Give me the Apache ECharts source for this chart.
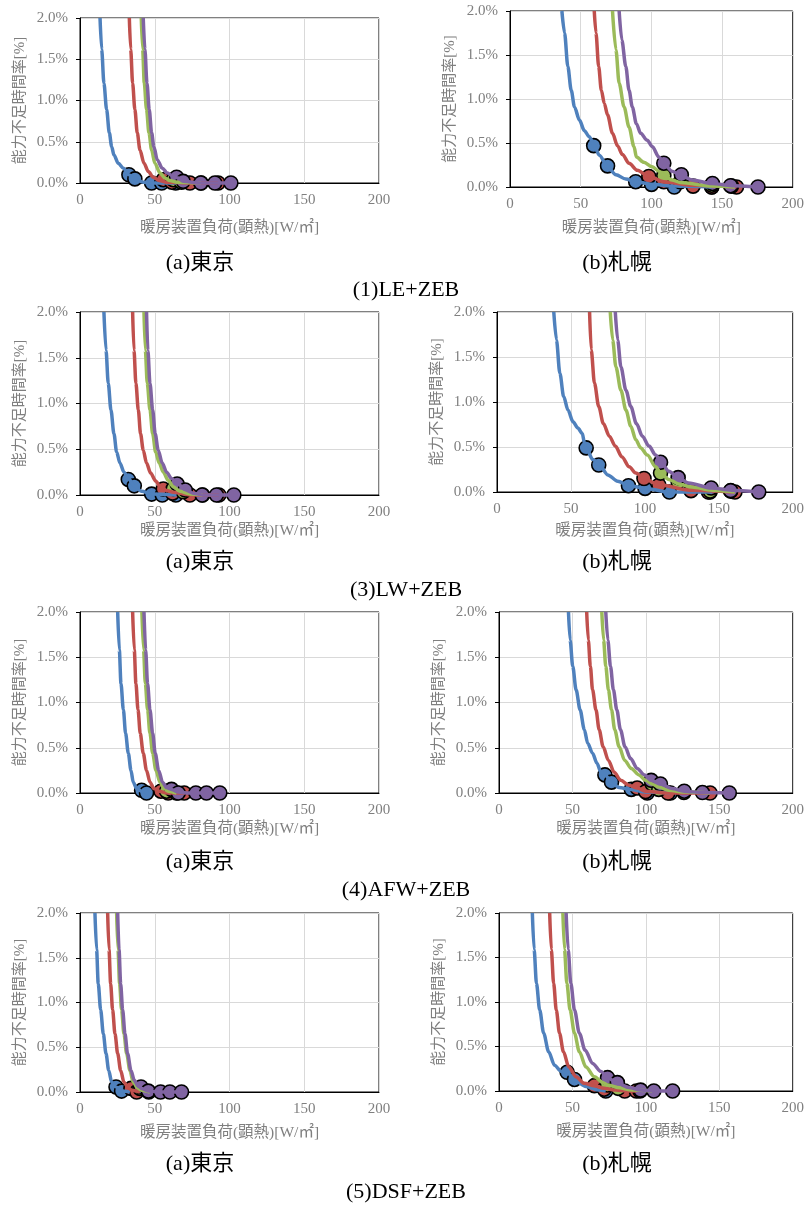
<!DOCTYPE html>
<html>
<head>
<meta charset="utf-8">
<script src="https://cdn.jsdelivr.net/npm/echarts@6/dist/echarts.min.js"></script>
<style>
html,body{margin:0;padding:0;background:#fff;}
#chart{width:807px;height:1205px;}
</style>
</head>
<body>
<div id="chart"></div>
<script>
// ---------- tick labels / axes ----------
const X_TICKS = [0, 50, 100, 150, 200];
const Y_TICKS = [0, 0.5, 1.0, 1.5, 2.0];
const X_TITLE = '暖房装置負荷(顕熱)[W/㎡]';
const Y_TITLE = '能力不足時間率[%]';
const CITY_LABELS = ['(a)東京', '(b)札幌'];
const GROUP_LABELS = ['(1)LE+ZEB', '(3)LW+ZEB', '(4)AFW+ZEB', '(5)DSF+ZEB'];

// ---------- (1) LE+ZEB, Tokyo ----------
const LE_TKY_BLUE_LINE = [[13.4,2.0],[14.5,1.62],[16.0,1.21],[17.8,0.89],[19.6,0.61],[21.2,0.44],[22.7,0.34],[25.6,0.24],[29.0,0.18],[32.7,0.10],[36.7,0.05],[42.3,0.01],[47.9,0],[64.6,0]];
const LE_TKY_BLUE_PTS = [[32.7,0.10],[36.7,0.05],[47.9,0],[54.6,0],[64.0,0]];
const LE_TKY_RED_LINE = [[33.0,2.0],[33.9,1.62],[35.2,1.21],[36.7,0.89],[38.3,0.61],[40.1,0.40],[42.8,0.24],[45.7,0.14],[49.0,0.07],[53.0,0.03],[57.9,0.01],[73.5,0],[92.4,0]];
const LE_TKY_RED_PTS = [[55.7,0.04],[61.5,0.01],[73.5,0],[92.4,0]];
const LE_TKY_GREEN_LINE = [[41.0,2.0],[41.9,1.62],[43.0,1.21],[44.5,0.89],[46.1,0.61],[47.9,0.40],[50.1,0.24],[53.5,0.12],[56.8,0.06],[60.1,0.03],[65.0,0.01],[81.0,0]];
const LE_TKY_GREEN_PTS = [[62.4,0.04],[67.9,0.01],[81.0,0]];
const LE_TKY_PURPLE_LINE = [[42.3,2.0],[43.4,1.62],[44.8,1.21],[46.3,0.89],[47.9,0.61],[49.4,0.44],[51.7,0.28],[55.0,0.18],[58.4,0.12],[62.4,0.08],[65.7,0.06],[69.0,0.02],[80.2,0],[100.9,0]];
const LE_TKY_PURPLE_PTS = [[64.6,0.07],[69.0,0.02],[80.8,0],[90.2,0],[100.9,0]];

// ---------- (1) LE+ZEB, Sapporo ----------
const LE_SPR_BLUE_LINE = [[36.7,2.0],[38.6,1.75],[40.9,1.37],[43.3,1.10],[45.6,0.91],[49.1,0.76],[52.6,0.64],[56.1,0.57],[59.6,0.47],[63.2,0.36],[69.0,0.23],[74.9,0.14],[81.9,0.09],[88.9,0.06],[100.6,0.03],[115.8,0.01],[142.7,0]];
const LE_SPR_BLUE_PTS = [[59.2,0.47],[69.0,0.24],[88.9,0.06],[100.1,0.03],[116.2,0],[142.7,0]];
const LE_SPR_RED_LINE = [[59.6,2.0],[60.8,1.75],[62.7,1.37],[64.6,1.10],[66.7,0.95],[69.0,0.82],[72.5,0.61],[76.0,0.47],[79.5,0.37],[84.2,0.27],[90.1,0.19],[97.1,0.13],[108.8,0.06],[128.7,0.02],[160.2,0]];
const LE_SPR_RED_PTS = [[98.2,0.12],[108.8,0.06],[129.5,0.01],[142.7,0],[160.2,0]];
const LE_SPR_GREEN_LINE = [[72.5,2.0],[74.9,1.56],[77.2,1.18],[80.7,0.91],[84.2,0.68],[87.7,0.46],[89.4,0.34],[94.7,0.28],[100.6,0.23],[105.3,0.18],[108.8,0.13],[114.6,0.08],[120.5,0.05],[142.7,0.01],[159.1,0]];
const LE_SPR_GREEN_PTS = [[108.8,0.13],[120.5,0.06],[142.7,0.02],[156.7,0.01]];
const LE_SPR_PURPLE_LINE = [[77.2,2.0],[79.1,1.67],[81.9,1.37],[84.2,1.10],[86.5,0.91],[89.4,0.72],[92.4,0.61],[97.1,0.53],[100.6,0.46],[105.3,0.34],[108.8,0.27],[114.6,0.18],[121.2,0.13],[128.7,0.08],[142.7,0.04],[156.7,0.015],[175.4,0]];
const LE_SPR_PURPLE_PTS = [[108.8,0.27],[121.2,0.14],[143.2,0.04],[156.0,0.015],[175.4,0]];

// ---------- (3) LW+ZEB, Tokyo ----------
const LW_TKY_BLUE_LINE = [[16.0,2.0],[17.4,1.58],[18.9,1.22],[20.7,0.93],[22.7,0.67],[24.5,0.47],[26.7,0.35],[29.4,0.25],[32.3,0.18],[36.3,0.10],[41.2,0.04],[47.9,0.01],[64.6,0]];
const LW_TKY_BLUE_PTS = [[32.3,0.17],[36.3,0.10],[47.9,0.01],[55.0,0],[64.1,0]];
const LW_TKY_RED_LINE = [[35.2,2.0],[36.1,1.58],[37.4,1.22],[39.0,0.93],[40.5,0.67],[42.3,0.49],[44.5,0.35],[47.2,0.24],[50.8,0.15],[53.5,0.09],[57.9,0.05],[62.4,0.03],[73.5,0],[92.9,0]];
const LW_TKY_RED_PTS = [[55.7,0.065],[61.9,0.02],[73.5,0],[92.9,0]];
const LW_TKY_GREEN_LINE = [[42.8,2.0],[43.7,1.58],[45.0,1.22],[46.8,0.93],[48.6,0.67],[50.6,0.47],[53.0,0.35],[55.7,0.25],[59.0,0.16],[62.4,0.09],[66.8,0.04],[73.5,0.01],[82.0,0]];
const LW_TKY_GREEN_PTS = [[62.4,0.07],[69.0,0.035],[82.0,0]];
const LW_TKY_PURPLE_LINE = [[44.5,2.0],[45.4,1.58],[46.8,1.22],[48.6,0.93],[50.3,0.67],[52.3,0.49],[55.0,0.35],[57.9,0.25],[61.2,0.18],[65.0,0.13],[70.2,0.06],[75.7,0.02],[82.4,0],[102.9,0]];
const LW_TKY_PURPLE_PTS = [[65.0,0.12],[70.4,0.055],[81.7,0],[91.3,0],[102.9,0]];

// ---------- (3) LW+ZEB, Sapporo ----------
const LW_SPR_BLUE_LINE = [[38.4,2.0],[40.2,1.69],[42.5,1.32],[45.1,1.06],[48.0,0.91],[51.4,0.78],[54.7,0.71],[57.7,0.65],[59.2,0.54],[60.3,0.49],[64.8,0.36],[69.3,0.30],[74.9,0.19],[81.6,0.12],[89.4,0.07],[100.6,0.04],[116.2,0],[145.3,0]];
const LW_SPR_BLUE_PTS = [[60.3,0.49],[68.8,0.30],[88.9,0.07],[100.1,0.04],[116.6,0],[144.0,0]];
const LW_SPR_RED_LINE = [[62.6,2.0],[63.7,1.58],[65.9,1.21],[68.8,0.95],[71.9,0.76],[76.0,0.62],[80.0,0.51],[84.5,0.39],[89.4,0.28],[93.9,0.21],[99.4,0.15],[109.5,0.08],[130.7,0.02],[160.9,0]];
const LW_SPR_RED_PTS = [[99.4,0.15],[109.5,0.075],[131.2,0.015],[143.0,0],[160.9,0]];
const LW_SPR_GREEN_LINE = [[76.6,2.0],[78.2,1.69],[80.4,1.39],[83.8,1.13],[87.2,0.91],[90.5,0.73],[93.9,0.58],[97.2,0.49],[101.7,0.41],[107.3,0.28],[110.6,0.21],[116.2,0.14],[122.9,0.09],[131.8,0.055],[145.3,0.02],[160.9,0]];
const LW_SPR_GREEN_PTS = [[110.6,0.21],[122.5,0.11],[144.1,0.01],[158.0,0.01]];
const LW_SPR_PURPLE_LINE = [[80.0,2.0],[81.6,1.69],[83.8,1.39],[87.2,1.13],[90.5,0.95],[94.3,0.76],[98.3,0.62],[102.8,0.51],[107.3,0.41],[110.6,0.34],[116.2,0.23],[122.5,0.16],[129.6,0.10],[144.8,0.045],[158.7,0.02],[176.5,0]];
const LW_SPR_PURPLE_PTS = [[110.6,0.33],[122.5,0.16],[144.8,0.045],[158.0,0.015],[177.0,0]];

// ---------- (4) AFW+ZEB, Tokyo ----------
const AFW_TKY_BLUE_LINE = [[25.2,2.0],[26.3,1.58],[27.4,1.21],[29.0,0.92],[30.5,0.66],[32.3,0.44],[34.1,0.25],[35.6,0.12],[37.9,0.05],[41.2,0.02],[45.7,0]];
const AFW_TKY_BLUE_PTS = [[41.2,0.03],[44.5,0]];
const AFW_TKY_RED_LINE = [[35.2,2.0],[36.3,1.58],[37.4,1.21],[38.8,0.92],[40.3,0.66],[42.3,0.44],[44.5,0.25],[46.8,0.12],[49.4,0.05],[53.0,0.02],[57.9,0],[70.2,0]];
const AFW_TKY_RED_PTS = [[54.1,0.02],[59.0,0],[69.7,0]];
const AFW_TKY_GREEN_LINE = [[41.4,2.0],[42.5,1.58],[43.7,1.21],[45.2,0.92],[46.8,0.66],[48.6,0.44],[50.8,0.25],[53.5,0.12],[56.1,0.05],[59.0,0.02],[64.6,0]];
const AFW_TKY_GREEN_PTS = [[57.9,0.02],[64.6,0]];
const AFW_TKY_PURPLE_LINE = [[42.8,2.0],[43.9,1.58],[45.2,1.21],[46.8,0.92],[48.6,0.66],[50.3,0.44],[52.6,0.25],[55.2,0.12],[57.9,0.06],[61.2,0.04],[65.7,0.01],[71.3,0],[93.5,0]];
const AFW_TKY_PURPLE_PTS = [[61.2,0.04],[65.7,0],[77.5,0],[84.6,0],[93.5,0]];

// ---------- (4) AFW+ZEB, Sapporo ----------
const AFW_SPR_BLUE_LINE = [[47.3,2.0],[48.4,1.69],[50.2,1.40],[52.5,1.14],[55.2,0.92],[58.1,0.70],[60.4,0.55],[63.7,0.44],[66.7,0.33],[69.4,0.23],[72.3,0.20],[76.8,0.11],[81.8,0.06],[89.6,0.04],[99.8,0.01],[116.7,0]];
const AFW_SPR_BLUE_PTS = [[72.1,0.20],[76.6,0.12],[90.1,0.04],[100.9,0],[116.7,0]];
const AFW_SPR_RED_LINE = [[59.7,2.0],[60.8,1.69],[62.2,1.40],[63.7,1.14],[66.0,0.92],[68.2,0.70],[70.9,0.51],[74.5,0.36],[78.4,0.23],[82.9,0.14],[88.5,0.085],[94.1,0.055],[99.8,0.02],[113.3,0],[143.7,0]];
const AFW_SPR_RED_PTS = [[94.1,0.055],[99.8,0.015],[115.1,0],[143.7,0]];
const AFW_SPR_GREEN_LINE = [[70.0,2.0],[71.2,1.69],[72.7,1.40],[74.5,1.14],[76.6,0.92],[78.8,0.70],[81.8,0.51],[85.6,0.36],[90.1,0.27],[95.3,0.20],[99.8,0.14],[104.3,0.10],[108.8,0.065],[115.5,0.03],[126.8,0.01],[143.7,0]];
const AFW_SPR_GREEN_PTS = [[104.3,0.10],[108.8,0.04],[125.9,0.005]];
const AFW_SPR_PURPLE_LINE = [[72.7,2.0],[74.1,1.69],[75.9,1.40],[77.9,1.14],[80.2,0.92],[82.7,0.70],[85.8,0.51],[89.6,0.38],[94.1,0.27],[99.1,0.20],[103.6,0.14],[109.9,0.10],[117.8,0.05],[126.1,0.02],[138.1,0.005],[156.8,0]];
const AFW_SPR_PURPLE_PTS = [[103.6,0.14],[109.9,0.10],[126.1,0.02],[138.5,0.005],[156.8,0]];

// ---------- (5) DSF+ZEB, Tokyo ----------
const DSF_TKY_BLUE_LINE = [[10.0,2.0],[11.1,1.59],[12.2,1.21],[13.8,0.92],[15.6,0.65],[17.4,0.43],[19.2,0.24],[21.2,0.11],[24.1,0.056],[27.8,0.01],[33.4,0]];
const DSF_TKY_BLUE_PTS = [[24.1,0.056],[27.8,0.01]];
const DSF_TKY_RED_LINE = [[18.5,2.0],[19.4,1.59],[20.5,1.21],[21.8,0.92],[23.4,0.65],[25.2,0.43],[27.2,0.24],[29.4,0.11],[32.3,0.045],[34.5,0.02],[40.1,0]];
const DSF_TKY_RED_PTS = [[34.1,0.04],[37.9,0]];
const DSF_TKY_GREEN_LINE = [[24.5,2.0],[25.4,1.59],[26.5,1.21],[27.8,0.92],[29.4,0.65],[31.2,0.43],[33.4,0.24],[35.6,0.11],[38.5,0.045],[41.2,0.02],[46.8,0]];
const DSF_TKY_GREEN_PTS = [[40.1,0.04],[46.0,0]];
const DSF_TKY_PURPLE_LINE = [[25.2,2.0],[26.1,1.59],[27.2,1.21],[28.5,0.92],[30.1,0.65],[31.8,0.43],[34.1,0.24],[36.3,0.13],[39.0,0.065],[41.2,0.04],[45.7,0.01],[53.5,0],[67.9,0]];
const DSF_TKY_PURPLE_PTS = [[40.8,0.056],[45.7,0.01],[53.9,0],[60.1,0],[67.9,0]];

// ---------- (5) DSF+ZEB, Sapporo ----------
const DSF_SPR_BLUE_LINE = [[22.7,2.0],[23.9,1.59],[25.5,1.21],[27.7,0.91],[30.4,0.65],[33.8,0.44],[37.8,0.29],[42.3,0.22],[46.4,0.21],[51.4,0.12],[59.2,0.05],[68.2,0.01],[72.7,0]];
const DSF_SPR_BLUE_PTS = [[46.4,0.21],[51.4,0.13],[72.7,0]];
const DSF_SPR_RED_LINE = [[34.5,2.0],[35.6,1.59],[37.2,1.21],[39.0,0.91],[41.2,0.65],[43.9,0.44],[47.5,0.27],[52.5,0.16],[58.1,0.086],[64.9,0.06],[71.6,0.03],[79.5,0.01],[86.3,0],[93.5,0]];
const DSF_SPR_RED_PTS = [[64.9,0.06],[71.6,0.02],[85.6,0],[93.5,0]];
const DSF_SPR_GREEN_LINE = [[43.5,2.0],[44.6,1.59],[46.2,1.21],[48.4,0.91],[51.4,0.65],[54.7,0.44],[59.2,0.27],[64.9,0.16],[70.9,0.094],[73.9,0.068],[80.6,0.04],[90.8,0.01],[104.3,0]];
const DSF_SPR_GREEN_PTS = [[73.9,0.068],[81.1,0.03],[96.0,0]];
const DSF_SPR_PURPLE_LINE = [[45.7,2.0],[47.1,1.59],[48.9,1.21],[51.4,0.91],[54.7,0.65],[58.6,0.46],[63.7,0.31],[69.4,0.22],[73.9,0.15],[80.6,0.086],[88.5,0.04],[96.4,0.01],[105.4,0],[118.2,0]];
const DSF_SPR_PURPLE_PTS = [[73.9,0.15],[80.6,0.094],[96.4,0.01],[105.4,0],[118.2,0]];

// ---------- panel assembly ----------
const PANEL_DATA = [
  [[LE_TKY_BLUE_LINE,LE_TKY_BLUE_PTS],[LE_TKY_RED_LINE,LE_TKY_RED_PTS],[LE_TKY_GREEN_LINE,LE_TKY_GREEN_PTS],[LE_TKY_PURPLE_LINE,LE_TKY_PURPLE_PTS]],
  [[LE_SPR_BLUE_LINE,LE_SPR_BLUE_PTS],[LE_SPR_RED_LINE,LE_SPR_RED_PTS],[LE_SPR_GREEN_LINE,LE_SPR_GREEN_PTS],[LE_SPR_PURPLE_LINE,LE_SPR_PURPLE_PTS]],
  [[LW_TKY_BLUE_LINE,LW_TKY_BLUE_PTS],[LW_TKY_RED_LINE,LW_TKY_RED_PTS],[LW_TKY_GREEN_LINE,LW_TKY_GREEN_PTS],[LW_TKY_PURPLE_LINE,LW_TKY_PURPLE_PTS]],
  [[LW_SPR_BLUE_LINE,LW_SPR_BLUE_PTS],[LW_SPR_RED_LINE,LW_SPR_RED_PTS],[LW_SPR_GREEN_LINE,LW_SPR_GREEN_PTS],[LW_SPR_PURPLE_LINE,LW_SPR_PURPLE_PTS]],
  [[AFW_TKY_BLUE_LINE,AFW_TKY_BLUE_PTS],[AFW_TKY_RED_LINE,AFW_TKY_RED_PTS],[AFW_TKY_GREEN_LINE,AFW_TKY_GREEN_PTS],[AFW_TKY_PURPLE_LINE,AFW_TKY_PURPLE_PTS]],
  [[AFW_SPR_BLUE_LINE,AFW_SPR_BLUE_PTS],[AFW_SPR_RED_LINE,AFW_SPR_RED_PTS],[AFW_SPR_GREEN_LINE,AFW_SPR_GREEN_PTS],[AFW_SPR_PURPLE_LINE,AFW_SPR_PURPLE_PTS]],
  [[DSF_TKY_BLUE_LINE,DSF_TKY_BLUE_PTS],[DSF_TKY_RED_LINE,DSF_TKY_RED_PTS],[DSF_TKY_GREEN_LINE,DSF_TKY_GREEN_PTS],[DSF_TKY_PURPLE_LINE,DSF_TKY_PURPLE_PTS]],
  [[DSF_SPR_BLUE_LINE,DSF_SPR_BLUE_PTS],[DSF_SPR_RED_LINE,DSF_SPR_RED_PTS],[DSF_SPR_GREEN_LINE,DSF_SPR_GREEN_PTS],[DSF_SPR_PURPLE_LINE,DSF_SPR_PURPLE_PTS]]
];

// layout (pixels)
const GRIDS = [
  {left:80, top:18, width:299, height:165},
  {left:510, top:11, width:285, height:176},
  {left:80, top:312, width:299, height:183},
  {left:497, top:312, width:298, height:180},
  {left:80, top:612, width:299, height:181},
  {left:499, top:612, width:296, height:181},
  {left:80, top:913, width:299, height:179},
  {left:499, top:913, width:296, height:178}
];
const X_NAME_GAPS = [37, 33.5, 28, 31.5, 28, 28, 33.5, 33];
const ROW_SUB_Y = [263, 562, 862, 1164];
const ROW_GROUP_Y = [290, 590, 890, 1192];
const COLORS = ['#4F81BD', '#C0504D', '#9BBB59', '#8064A2'];
const SERIF = '"Liberation Serif","Noto Sans CJK JP",serif';
const GRAY = '#7f7f7f';

const grid = [], xAxis = [], yAxis = [], series = [], graphic = [];
GRIDS.forEach((g, i) => {
  grid.push(Object.assign({show:true, borderColor:'#000', borderWidth:1, containLabel:false}, g));
  xAxis.push({
    type:'value', gridIndex:i, min:X_TICKS[0], max:X_TICKS[X_TICKS.length-1], interval:X_TICKS[1]-X_TICKS[0],
    name:X_TITLE, nameLocation:'middle', nameGap:X_NAME_GAPS[i],
    nameTextStyle:{color:GRAY, fontSize:15.5, fontFamily:SERIF},
    axisLine:{show:true, onZero:false, lineStyle:{color:'#000', width:1}},
    axisTick:{show:false},
    axisLabel:{color:GRAY, fontSize:15, fontFamily:SERIF, margin:10},
    splitLine:{show:true, lineStyle:{color:'#d9d9d9', width:1}}
  });
  yAxis.push({
    type:'value', gridIndex:i, min:Y_TICKS[0], max:Y_TICKS[Y_TICKS.length-1], interval:Y_TICKS[1]-Y_TICKS[0],
    name:Y_TITLE, nameLocation:'middle', nameGap:52, nameRotate:90,
    nameTextStyle:{color:GRAY, fontSize:15, fontFamily:SERIF},
    axisLine:{show:true, lineStyle:{color:'#000', width:1}},
    axisTick:{show:true, length:4, lineStyle:{color:'#000'}},
    axisLabel:{color:GRAY, fontSize:15, fontFamily:SERIF, margin:12, formatter:v => v.toFixed(1) + '%'},
    splitLine:{show:true, lineStyle:{color:'#d9d9d9', width:1}}
  });
  PANEL_DATA[i].forEach((pair, j) => {
    series.push({
      type:'line', xAxisIndex:i, yAxisIndex:i, data:pair[0], symbol:'none', showSymbol:false,
      smooth:0.3, smoothMonotone:'x', clip:false,
      lineStyle:{color:COLORS[j], width:3.5}, emphasis:{disabled:true}, silent:true
    });
    series.push({
      type:'scatter', xAxisIndex:i, yAxisIndex:i, data:pair[1], symbol:'circle', symbolSize:14, clip:false,
      itemStyle:{color:COLORS[j], borderColor:'#000', borderWidth:1.6, opacity:1},
      emphasis:{disabled:true}, silent:true
    });
  });
});

ROW_SUB_Y.forEach((y, r) => {
  graphic.push({type:'text', x:200, y:y, style:{text:CITY_LABELS[0], font:'22px ' + SERIF, fill:'#000', textAlign:'center', textVerticalAlign:'middle'}});
  graphic.push({type:'text', x:617, y:y, style:{text:CITY_LABELS[1], font:'22px ' + SERIF, fill:'#000', textAlign:'center', textVerticalAlign:'middle'}});
  graphic.push({type:'text', x:406, y:ROW_GROUP_Y[r], style:{text:GROUP_LABELS[r], font:'22px ' + SERIF, fill:'#000', textAlign:'center', textVerticalAlign:'middle'}});
});

const chart = echarts.init(document.getElementById('chart'), null, {renderer:'canvas'});
chart.setOption({
  animation:false,
  backgroundColor:'#fff',
  grid, xAxis, yAxis, series, graphic
});
</script>
</body>
</html>
